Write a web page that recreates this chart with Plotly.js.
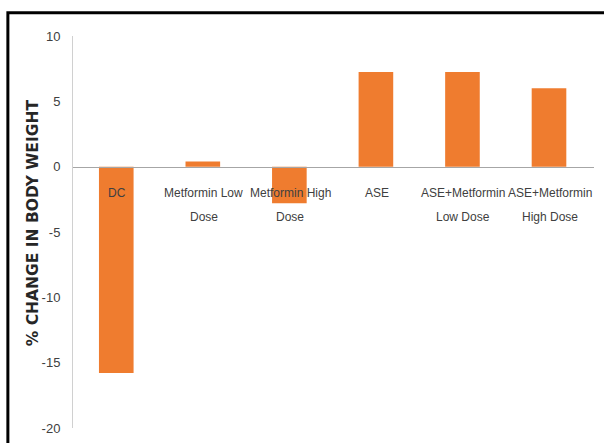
<!DOCTYPE html>
<html>
<head>
<meta charset="utf-8">
<script src="https://cdn.plot.ly/plotly-3.0.1.min.js"></script>
<style>
  html, body { margin: 0; padding: 0; background: #ffffff; }
  #chart { width: 604px; height: 443px; }
</style>
</head>
<body>
<div id="chart"></div>
<script>
// Treatment groups and their % change in body weight
const groups = [
  'DC',
  'Metformin Low Dose',
  'Metformin High Dose',
  'ASE',
  'ASE+Metformin Low Dose',
  'ASE+Metformin High Dose'
];
// category labels are printed on two lines just under the zero line
const labelLine1 = ['DC', 'Metformin Low', 'Metformin High', 'ASE', 'ASE+Metformin', 'ASE+Metformin'];
const labelLine2 = ['', 'Dose', 'Dose', '', 'Low Dose', 'High Dose'];

const weightChange = [-15.8, 0.4, -2.8, 7.25, 7.25, 6.0];

const yTicks = [10, 5, 0, -5, -10, -15, -20];
const yTickText = ['10', '5', '0', '-5', '-10', '-15', '-20'];
const yTitle = '% CHANGE IN BODY WEIGHT';

const yMin = -20, yMax = 10;
const zeroPos = (0 - yMin) / (yMax - yMin);

const labelFont = { family: 'Liberation Sans, Arial, sans-serif', size: 12, color: '#404040' };
const tickFont = { family: 'Liberation Sans, Arial, sans-serif', size: 13, color: '#404040' };

const trace = {
  type: 'bar',
  x: groups,
  y: weightChange,
  marker: { color: '#ef7c2f', line: { width: 0 } },
  hoverinfo: 'x+y'
};

// two-line category labels hanging off the zero line
const annotations = [];
groups.forEach((g, i) => {
  [labelLine1[i], labelLine2[i]].forEach((txt, row) => {
    if (!txt) return;
    annotations.push({
      x: g, y: 0, xref: 'x', yref: 'y',
      text: txt, showarrow: false,
      xanchor: 'center', yanchor: 'middle',
      xshift: 1,
      yshift: row === 0 ? -26 : -50,
      font: labelFont
    });
  });
});

// rotated axis title
annotations.push({
  x: (33 - 73) / 520, y: (428 - 222) / 392.5, xref: 'paper', yref: 'paper',
  text: yTitle, showarrow: false, textangle: -90,
  xanchor: 'center', yanchor: 'middle',
  font: { family: 'DejaVu Sans, sans-serif', size: 15.5, color: '#262626', weight: 'bold' }
});

const layout = {
  width: 604,
  height: 443,
  margin: { l: 73, r: 10, t: 36, b: 15 },
  paper_bgcolor: '#ffffff',
  plot_bgcolor: '#ffffff',
  showlegend: false,
  bargap: 0.6,
  font: labelFont,
  xaxis: {
    type: 'category',
    anchor: 'free',
    position: zeroPos,
    showline: true,
    linecolor: '#a6a6a6',
    linewidth: 1.5,
    showgrid: false,
    zeroline: false,
    ticks: '',
    showticklabels: false,
    automargin: false,
    fixedrange: true
  },
  yaxis: {
    range: [yMin, yMax],
    tickvals: yTicks,
    ticktext: yTickText,
    showline: true,
    linecolor: '#d0d0d0',
    linewidth: 1,
    showgrid: false,
    zeroline: false,
    ticks: '',
    ticklabelstandoff: 9,
    tickfont: tickFont,
    automargin: false,
    fixedrange: true
  },
  annotations: annotations,
  shapes: [
    // frame: left and top edges
    {
      type: 'path', xref: 'paper', yref: 'paper',
      path: 'M -0.125 -0.1 L -0.125 1.059 L 1.05 1.059',
      line: { color: '#000000', width: 3 }
    }
  ]
};

Plotly.newPlot('chart', [trace], layout, { displayModeBar: false, staticPlot: true });
</script>
</body>
</html>
